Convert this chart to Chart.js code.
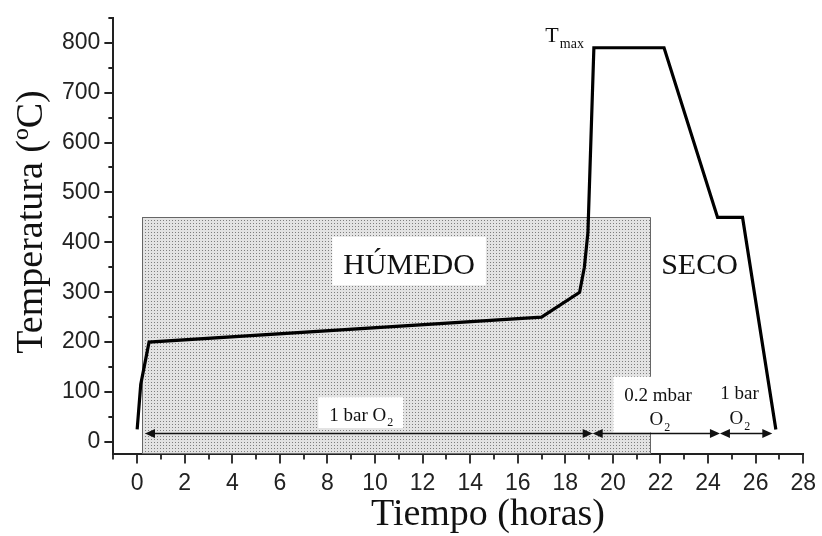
<!DOCTYPE html>
<html>
<head>
<meta charset="utf-8">
<script src="https://cdn.jsdelivr.net/npm/chart.js@4.4.0/dist/chart.umd.min.js"></script>
<style>
html, body { margin: 0; padding: 0; background: #fff; }
canvas { display: block; }
</style>
</head>
<body>
<canvas id="c" width="822" height="536" style="width:822px;height:536px"></canvas>
<script>
// perfil de tratamiento: tiempo (h) frente a temperatura (ºC)
var tiempo      = [0, 0.15, 0.5, 17, 18.6, 18.8, 18.95, 19.2, 22.15, 24.4, 25.45, 26.85];
var temperatura = [25, 115, 200, 250, 300, 350, 420, 790, 790, 450, 450, 25];

// marcas de los ejes
var xMayor = [0, 2, 4, 6, 8, 10, 12, 14, 16, 18, 20, 22, 24, 26, 28];
var xMenor = [-1, 1, 3, 5, 7, 9, 11, 13, 15, 17, 19, 21, 23, 25, 27];
var yMayor = [0, 100, 200, 300, 400, 500, 600, 700, 800];
var yMenor = [50, 150, 250, 350, 450, 550, 650, 750, 850];

// zona de atmósfera húmeda
var humedoDesde = 0.2, humedoHasta = 21.6, humedoTecho = 450;

// tramos de presión de O2 (flechas)
var flechas = [[0.33, 19.15], [19.15, 24.5], [24.5, 26.7]];
var nivelFlecha = 17;

// rótulos: x centro, y línea base (unidades de datos)
var rotulos = [
  { size: 30, fondo: true, lineas: [{ x: 11.43, y: 336, partes: [['HÚMEDO']] }] },
  { size: 30, fondo: false, lineas: [{ x: 23.64, y: 336, partes: [['SECO']] }] },
  { size: 19, fondo: true, lineas: [{ x: 9.4, y: 42, partes: [['1 bar O'], ['2', true]] }] },
  { size: 19, fondo: true, lineas: [
      { x: 21.9, y: 83, partes: [['0.2 mbar']] },
      { x: 21.95, y: 33, partes: [['O'], ['2', true]] }] },
  { size: 19, fondo: false, lineas: [
      { x: 25.32, y: 87, partes: [['1 bar']] },
      { x: 25.32, y: 35, partes: [['O'], ['2', true]] }] },
  { size: 22, fondo: false, lineas: [{ x: 17.95, y: 802, partes: [['T'], ['max', true]] }] }
];

var puntos = [];
for (var i = 0; i < tiempo.length; i++) puntos.push({ x: tiempo[i], y: temperatura[i] });

var SERIF = '"Liberation Serif", "Times New Roman", serif';
var subEscala = 0.63;

function trama(ctx) {
  var c = document.createElement('canvas');
  c.width = 3; c.height = 3;
  var g = c.getContext('2d');
  g.fillStyle = '#e3e3e3'; g.fillRect(0, 0, 3, 3);
  g.fillStyle = '#7e7e7e'; g.fillRect(1, 1, 1, 1);
  return ctx.createPattern(c, 'repeat');
}

function medir(ctx, partes, size) {
  var w = 0;
  partes.forEach(function (p) {
    ctx.font = (p[1] ? Math.round(size * subEscala) : size) + 'px ' + SERIF;
    w += ctx.measureText(p[0]).width;
  });
  return w;
}

function pintar(ctx, partes, x, y, size) {
  ctx.textAlign = 'left';
  ctx.textBaseline = 'alphabetic';
  partes.forEach(function (p) {
    var s = p[1] ? Math.round(size * subEscala) : size;
    ctx.font = s + 'px ' + SERIF;
    ctx.fillText(p[0], x, p[1] ? y + size * 0.28 : y);
    x += ctx.measureText(p[0]).width + (p[1] ? 0 : 1);
  });
}

function punta(ctx, x, y, dir) {
  ctx.beginPath();
  ctx.moveTo(x, y);
  ctx.lineTo(x + dir * 10, y - 4.5);
  ctx.lineTo(x + dir * 10, y + 4.5);
  ctx.closePath();
  ctx.fill();
}

var zonaPlugin = {
  id: 'zona',
  beforeDatasetsDraw: function (chart) {
    var ctx = chart.ctx, xs = chart.scales.x, ys = chart.scales.y;
    var l = Math.round(xs.getPixelForValue(humedoDesde));
    var r = Math.round(xs.getPixelForValue(humedoHasta));
    var t = Math.round(ys.getPixelForValue(humedoTecho));
    var b = chart.chartArea.bottom - 1;
    ctx.save();
    ctx.fillStyle = trama(ctx);
    ctx.fillRect(l, t, r - l, b - t);
    ctx.strokeStyle = '#666';
    ctx.lineWidth = 1;
    ctx.beginPath();
    ctx.moveTo(l + 0.5, b); ctx.lineTo(l + 0.5, t + 0.5);
    ctx.lineTo(r - 0.5, t + 0.5); ctx.lineTo(r - 0.5, b);
    ctx.stroke();

    // textos con su recuadro blanco
    rotulos.forEach(function (ro) {
      var caja = null;
      ro.lineas.forEach(function (ln) {
        var w = medir(ctx, ln.partes, ro.size);
        var cx = xs.getPixelForValue(ln.x), by = ys.getPixelForValue(ln.y);
        ln._x = cx - w / 2; ln._y = by;
        var c = [cx - w / 2 - 11, by - 1.25 * ro.size, cx + w / 2 + 11, by + 0.37 * ro.size];
        if (!caja) caja = c;
        else caja = [Math.min(caja[0], c[0]), Math.min(caja[1], c[1]), Math.max(caja[2], c[2]), Math.max(caja[3], c[3])];
      });
      if (ro.fondo) {
        ctx.fillStyle = '#fff';
        ctx.fillRect(caja[0], caja[1], caja[2] - caja[0], caja[3] - caja[1]);
      }
      ctx.fillStyle = '#111';
      ro.lineas.forEach(function (ln) { pintar(ctx, ln.partes, ln._x, ln._y, ro.size); });
    });

    // flechas de atmósfera
    var ay = Math.round(ys.getPixelForValue(nivelFlecha)) + 0.5;
    ctx.strokeStyle = '#111';
    ctx.fillStyle = '#111';
    ctx.lineWidth = 1.3;
    flechas.forEach(function (f) {
      var a = xs.getPixelForValue(f[0]), e = xs.getPixelForValue(f[1]);
      ctx.beginPath(); ctx.moveTo(a + 4, ay); ctx.lineTo(e - 4, ay); ctx.stroke();
      punta(ctx, a, ay, 1);
      punta(ctx, e, ay, -1);
    });
    ctx.restore();
  }
};

var ejesPlugin = {
  id: 'ejes',
  afterDraw: function (chart) {
    var ctx = chart.ctx, xs = chart.scales.x, ys = chart.scales.y, ca = chart.chartArea;
    ctx.save();
    ctx.strokeStyle = '#222';
    ctx.lineWidth = 1.8;
    ctx.beginPath();
    xMayor.forEach(function (v) { var p = Math.round(xs.getPixelForValue(v)); ctx.moveTo(p, ca.bottom); ctx.lineTo(p, ca.bottom + 9); });
    xMenor.forEach(function (v) { var p = Math.round(xs.getPixelForValue(v)); ctx.moveTo(p, ca.bottom); ctx.lineTo(p, ca.bottom + 5); });
    yMayor.forEach(function (v) { var p = Math.round(ys.getPixelForValue(v)); ctx.moveTo(ca.left, p); ctx.lineTo(ca.left - 9, p); });
    yMenor.forEach(function (v) { var p = Math.round(ys.getPixelForValue(v)); ctx.moveTo(ca.left, p); ctx.lineTo(ca.left - 5, p); });
    ctx.stroke();

    // títulos de los ejes
    ctx.fillStyle = '#111';
    ctx.font = '38px ' + SERIF;
    ctx.textAlign = 'center';
    ctx.textBaseline = 'alphabetic';
    ctx.fillText('Tiempo (horas)', 488, 525);
    ctx.translate(42, 222);
    ctx.rotate(-Math.PI / 2);
    ctx.fillText('Temperatura (ºC)', 0, 0);
    ctx.restore();
  }
};

function marcas(mayor, menor) {
  return function (axis) {
    axis.ticks = mayor.concat(menor).sort(function (p, q) { return p - q; }).map(function (v) { return { value: v }; });
  };
}

var fuenteTicks = { family: '"Liberation Sans", Arial, sans-serif', size: 23 };

new Chart(document.getElementById('c'), {
  type: 'line',
  data: {
    datasets: [{
      data: puntos,
      borderColor: '#000',
      borderWidth: 3.2,
      borderJoinStyle: 'miter',
      pointRadius: 0,
      tension: 0,
      fill: false
    }]
  },
  options: {
    responsive: false,
    animation: false,
    layout: { padding: { left: 58, right: 13, top: -4, bottom: 33 } },
    plugins: { legend: { display: false }, tooltip: { enabled: false } },
    scales: {
      x: {
        type: 'linear', min: -1, max: 28,
        afterBuildTicks: marcas(xMayor, xMenor),
        ticks: {
          autoSkip: false, maxRotation: 0, padding: 6, color: '#222', font: fuenteTicks,
          callback: function (v) { return xMayor.indexOf(v) >= 0 ? String(v) : ''; }
        },
        grid: { drawOnChartArea: false, tickLength: 9, color: 'rgba(0,0,0,0)' },
        border: { color: '#222', width: 2 }
      },
      y: {
        type: 'linear', min: -25, max: 850,
        afterBuildTicks: marcas(yMayor, yMenor),
        ticks: {
          autoSkip: false, padding: 4, color: '#222', font: fuenteTicks,
          callback: function (v) { return yMayor.indexOf(v) >= 0 ? String(v) : ''; }
        },
        grid: { drawOnChartArea: false, tickLength: 9, color: 'rgba(0,0,0,0)' },
        border: { color: '#222', width: 2 }
      }
    }
  },
  plugins: [zonaPlugin, ejesPlugin]
});
</script>
</body>
</html>
